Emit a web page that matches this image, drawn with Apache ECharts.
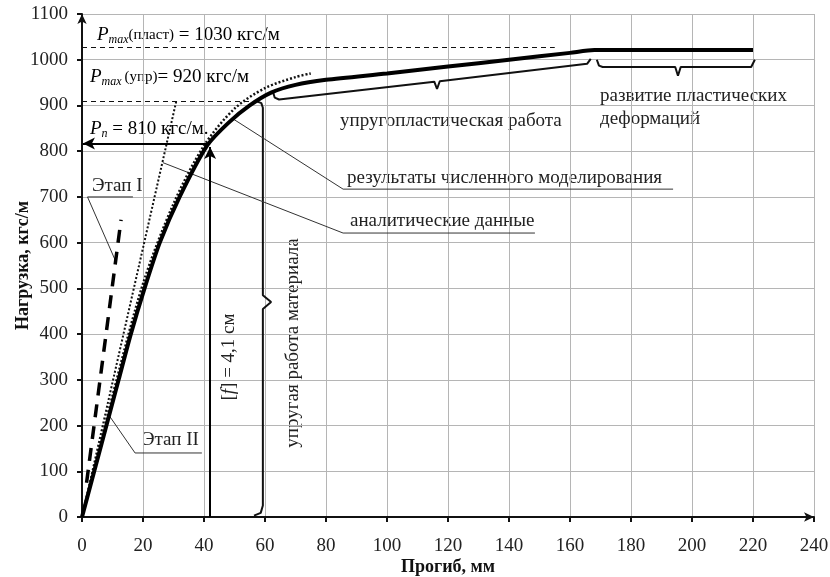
<!DOCTYPE html>
<html>
<head>
<meta charset="utf-8">
<script src="https://cdn.jsdelivr.net/npm/echarts@6/dist/echarts.min.js"></script>
<style>
html, body { margin: 0; padding: 0; background: #fff; }
#chart { width: 830px; height: 577px; }
</style>
</head>
<body>
<div id="chart"></div>
<script>
// результаты численного моделирования (жирная линия)
var numDefl = [0, 12, 16, 20.5, 25.5, 32, 41, 48, 55, 62, 70, 80, 100, 120, 140, 160, 168, 220];
var numLoad = [0, 300, 400, 500, 600, 700, 812, 862, 900, 928, 945, 956, 970, 985, 1000, 1015, 1021, 1021];

// пунктир рядом с кривой
var nearDefl = [0, 10, 20, 30, 40, 50, 60, 70, 75];
var nearLoad = [0, 265, 510, 685, 812, 893, 938, 962, 970];

// аналитические данные (крутой пунктир)
var anDefl = [0, 31];
var anLoad = [0, 912];

// Этап I
var st1Defl = [1.5, 12.8];
var st1Load = [75, 650];

// уровни нагрузки
var pPlast = 1027;
var pUpr = 910;
var pN = 817;
var fLim = 42;

// оси
var xTicks = [0, 240, 20];
var yTicks = [0, 1100, 100];

function zip(a, b) {
    return a.map(function (v, i) { return [v, b[i]]; });
}

var FONT = 'Liberation Serif';

// скобки и выноски
var braceElastic = [[56.4, 3], [58.6, 9], [59.3, 25], [59.3, 455], [62, 470], [59.3, 485], [59.3, 895], [58.8, 905], [57.3, 909]];
var bracePlastic = [[62.6, 930], [63.2, 917], [64.6, 913], [115.5, 952], [116.4, 936], [117.3, 953], [165.6, 991], [166.8, 1002]];
var braceDevelop = [[168.8, 1000], [169.5, 987], [170.7, 984], [194.5, 984], [195.4, 965], [196.3, 984], [219.4, 984], [220.6, 1000]];

var leaders = [
    [[1.8, 700], [10.8, 563]],
    [[1.8, 700], [16.7, 700]],
    [[17.4, 140], [9.2, 219]],
    [[17.4, 140], [39.3, 140]],
    [[85.6, 621], [26.5, 775]],
    [[85.6, 621], [148.5, 621]],
    [[85.6, 717], [49.2, 872]],
    [[85.6, 717], [193.8, 717]]
];

var chart = echarts.init(document.getElementById('chart'));

var thinSeries = leaders.map(function (seg) {
    return {
        type: 'line',
        data: seg,
        symbol: 'none',
        silent: true,
        lineStyle: { color: '#333', width: 1 },
        z: 3
    };
});

var braceSeries = [braceElastic, bracePlastic, braceDevelop].map(function (b) {
    return {
        type: 'line',
        data: b,
        symbol: 'none',
        silent: true,
        lineStyle: { color: '#111', width: 2 },
        z: 3
    };
});

var option = {
    animation: false,
    backgroundColor: '#fff',
    grid: { left: 82, right: 16, top: 14, bottom: 60, containLabel: false, outerBoundsMode: 'none' },
    xAxis: {
        type: 'value',
        min: xTicks[0],
        max: xTicks[1],
        interval: xTicks[2],
        name: 'Прогиб, мм',
        nameLocation: 'middle',
        nameGap: 41,
        nameMoveOverlap: false,
        nameTextStyle: { fontFamily: FONT, fontWeight: 'bold', fontSize: 18, color: '#111' },
        axisLine: { lineStyle: { color: '#111', width: 2 }, symbol: ['none', 'arrow'], symbolSize: [7, 10] },
        axisTick: { show: true, length: 5, lineStyle: { color: '#111', width: 2 } },
        axisLabel: { fontFamily: FONT, fontSize: 19, color: '#222', margin: 20 },
        splitLine: { show: true, lineStyle: { color: '#b5b5b5', width: 1 } }
    },
    yAxis: {
        type: 'value',
        min: yTicks[0],
        max: yTicks[1],
        interval: yTicks[2],
        name: 'Нагрузка, кгс/м',
        nameLocation: 'middle',
        nameGap: 50,
        nameMoveOverlap: false,
        nameTextStyle: { fontFamily: FONT, fontWeight: 'bold', fontSize: 18, color: '#111' },
        axisLine: { show: true, lineStyle: { color: '#111', width: 2 }, symbol: ['none', 'arrow'], symbolSize: [7, 10] },
        axisTick: { show: true, length: 5, lineStyle: { color: '#111', width: 2 } },
        axisLabel: { fontFamily: FONT, fontSize: 19, color: '#222', margin: 14, formatter: function (v) { return String(v); } },
        splitLine: { show: true, lineStyle: { color: '#b5b5b5', width: 1 } }
    },
    series: [
        {
            name: 'аналитические данные',
            type: 'line',
            data: zip(anDefl, anLoad),
            symbol: 'none',
            lineStyle: { color: '#111', width: 2, type: [2, 2] },
            z: 4
        },
        {
            name: 'пунктир',
            type: 'line',
            data: zip(nearDefl, nearLoad),
            symbol: 'none',
            smooth: 0.3,
            lineStyle: { color: '#111', width: 2.5, type: [2, 2] },
            z: 4
        },
        {
            name: 'результаты численного моделирования',
            type: 'line',
            data: zip(numDefl, numLoad),
            symbol: 'none',
            smooth: 0.25,
            lineStyle: { color: '#000', width: 4 },
            z: 5
        },
        {
            name: 'Этап I',
            type: 'line',
            data: zip(st1Defl, st1Load),
            symbol: 'none',
            lineStyle: { color: '#000', width: 3.5, type: [13, 9] },
            z: 5,
            markLine: {
                silent: true,
                symbol: ['none', 'none'],
                label: { show: false },
                lineStyle: { color: '#111', width: 1, type: [5, 4] },
                data: [
                    [{ coord: [0, pPlast] }, { coord: [155, pPlast] }],
                    [{ coord: [0, pUpr] }, { coord: [58, pUpr] }]
                ]
            }
        },
        {
            name: 'стрелки',
            type: 'line',
            data: [],
            markLine: {
                silent: true,
                symbol: ['none', 'arrow'],
                symbolSize: [9, 12],
                label: { show: false },
                lineStyle: { color: '#000', width: 2, type: 'solid' },
                data: [
                    [{ coord: [fLim, pN] }, { coord: [0.3, pN] }],
                    [{ coord: [fLim, 0] }, { coord: [fLim, pN - 8] }]
                ]
            }
        }
    ].concat(braceSeries, thinSeries),
    graphic: [
        { type: 'text', x: 97, y: 35, style: {
            text: '{p|P}{s|max}{m|(пласт)}{t| = 1030 кгс/м}',
            textVerticalAlign: 'middle', verticalAlign: 'middle',
            rich: {
                p: { fontFamily: FONT, fontStyle: 'italic', fontSize: 19, color: '#222' },
                s: { fontFamily: FONT, fontStyle: 'italic', fontSize: 12, padding: [9, 0, 0, 0], color: '#222' },
                m: { fontFamily: FONT, fontSize: 15, color: '#222' },
                t: { fontFamily: FONT, fontSize: 19, color: '#222' }
            }
        } },
        { type: 'text', x: 90, y: 77, style: {
            text: '{p|P}{s|max }{m|(упр)}{t|= 920 кгс/м}',
            textVerticalAlign: 'middle', verticalAlign: 'middle',
            rich: {
                p: { fontFamily: FONT, fontStyle: 'italic', fontSize: 19, color: '#222' },
                s: { fontFamily: FONT, fontStyle: 'italic', fontSize: 12, padding: [9, 0, 0, 0], color: '#222' },
                m: { fontFamily: FONT, fontSize: 15, color: '#222' },
                t: { fontFamily: FONT, fontSize: 19, color: '#222' }
            }
        } },
        { type: 'text', x: 90, y: 129, style: {
            text: '{p|P}{s|n}{t| = 810 кгс/м.}',
            textVerticalAlign: 'middle', verticalAlign: 'middle',
            rich: {
                p: { fontFamily: FONT, fontStyle: 'italic', fontSize: 19, color: '#222' },
                s: { fontFamily: FONT, fontStyle: 'italic', fontSize: 12, padding: [9, 0, 0, 0], color: '#222' },
                t: { fontFamily: FONT, fontSize: 19, color: '#222' }
            }
        } },
        { type: 'text', x: 92, y: 186, style: { text: 'Этап I', font: '19px "Liberation Serif"', fill: '#222', textVerticalAlign: 'middle', verticalAlign: 'middle' } },
        { type: 'text', x: 142, y: 440, style: { text: 'Этап II', font: '19px "Liberation Serif"', fill: '#222', textVerticalAlign: 'middle', verticalAlign: 'middle' } },
        { type: 'text', x: 340, y: 121, style: { text: 'упругопластическая работа', font: '19px "Liberation Serif"', fill: '#222', textVerticalAlign: 'middle', verticalAlign: 'middle' } },
        { type: 'text', x: 600, y: 96, style: { text: 'развитие пластических', font: '19px "Liberation Serif"', fill: '#222', textVerticalAlign: 'middle', verticalAlign: 'middle' } },
        { type: 'text', x: 600, y: 119, style: { text: 'деформаций', font: '19px "Liberation Serif"', fill: '#222', textVerticalAlign: 'middle', verticalAlign: 'middle' } },
        { type: 'text', x: 347, y: 178, style: { text: 'результаты численного моделирования', font: '19px "Liberation Serif"', fill: '#222', textVerticalAlign: 'middle', verticalAlign: 'middle' } },
        { type: 'text', x: 350, y: 221, style: { text: 'аналитические данные', font: '19px "Liberation Serif"', fill: '#222', textVerticalAlign: 'middle', verticalAlign: 'middle' } },
        { type: 'text', x: 229, y: 357, rotation: Math.PI / 2, style: {
            text: '[{f|f}] = 4,1 см',
            font: '19px "Liberation Serif"', fill: '#222',
            textAlign: 'center', align: 'center', textVerticalAlign: 'middle', verticalAlign: 'middle',
            rich: { f: { fontFamily: FONT, fontStyle: 'italic', fontSize: 19, color: '#222' } }
        } },
        { type: 'text', x: 293, y: 343, rotation: Math.PI / 2, style: {
            text: 'упругая работа материала', font: '19px "Liberation Serif"', fill: '#222',
            textAlign: 'center', align: 'center', textVerticalAlign: 'middle', verticalAlign: 'middle'
        } }
    ]
};

chart.setOption(option);
</script>
</body>
</html>
